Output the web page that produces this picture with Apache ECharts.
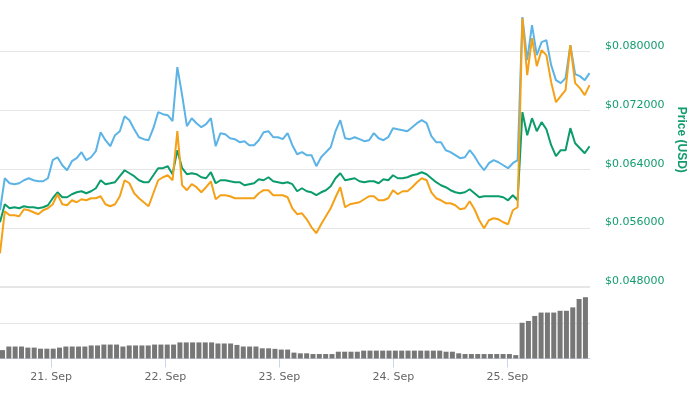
<!DOCTYPE html>
<html>
<head>
<meta charset="utf-8">
<script src="https://cdn.jsdelivr.net/npm/echarts@6/dist/echarts.min.js"></script>
<style>
html,body{margin:0;padding:0;background:#ffffff;}
#chart{width:694px;height:394px;}
</style>
</head>
<body>
<div id="chart"></div>
<script>
// ---- data ----
const startTime = new Date(2018, 8, 20, 13, 45).getTime();   // first price sample
const axisStart = new Date(2018, 8, 20, 13, 45).getTime();
const axisEnd = new Date(2018, 8, 25, 16, 51).getTime();
const priceStepMinutes = 60;
const volumeStepMinutes = 80;
const dayMs = 86400000;
const priceTicks = [0.048, 0.056, 0.064, 0.072, 0.080];

const seriesBlue = [
0.05841,0.06277,0.06209,0.06196,0.06209,0.06250,0.06277,0.06250,0.06236,0.06236,
0.06277,0.06523,0.06563,0.06454,0.06386,0.06509,0.06550,0.06632,0.06523,0.06563,
0.06645,0.06904,0.06795,0.06713,0.06863,0.06918,0.07122,0.07068,0.06945,0.06836,
0.06809,0.06795,0.06959,0.07177,0.07150,0.07136,0.07054,0.07790,0.07409,0.06986,
0.07095,0.07027,0.06972,0.07013,0.07095,0.06713,0.06891,0.06877,0.06822,0.06809,
0.06768,0.06782,0.06727,0.06727,0.06795,0.06904,0.06918,0.06836,0.06836,0.06809,
0.06891,0.06727,0.06604,0.06632,0.06591,0.06591,0.06441,0.06563,0.06632,0.06700,
0.06918,0.07068,0.06822,0.06809,0.06836,0.06809,0.06782,0.06795,0.06891,0.06822,
0.06795,0.06836,0.06959,0.06945,0.06932,0.06918,0.06972,0.07027,0.07068,0.07027,
0.06850,0.06768,0.06768,0.06659,0.06632,0.06591,0.06550,0.06563,0.06659,0.06577,
0.06468,0.06386,0.06482,0.06523,0.06495,0.06454,0.06414,0.06482,0.06523,0.08472,
0.07886,0.08363,0.07954,0.08131,0.08158,0.07817,0.07613,0.07572,0.07640,0.08090,
0.07695,0.07668,0.07613,0.07709
];
const seriesGreen = [
0.05678,0.05923,0.05868,0.05882,0.05868,0.05896,0.05882,0.05882,0.05868,0.05882,
0.05909,0.06005,0.06086,0.06018,0.06018,0.06059,0.06086,0.06100,0.06073,0.06100,
0.06141,0.06250,0.06196,0.06209,0.06223,0.06305,0.06386,0.06345,0.06305,0.06250,
0.06223,0.06223,0.06318,0.06414,0.06414,0.06441,0.06332,0.06659,0.06414,0.06332,
0.06345,0.06332,0.06291,0.06277,0.06359,0.06209,0.06250,0.06250,0.06236,0.06223,
0.06223,0.06182,0.06196,0.06209,0.06264,0.06250,0.06291,0.06236,0.06223,0.06209,
0.06223,0.06196,0.06100,0.06141,0.06100,0.06086,0.06046,0.06086,0.06114,0.06168,
0.06277,0.06345,0.06250,0.06264,0.06277,0.06236,0.06223,0.06236,0.06236,0.06209,
0.06264,0.06250,0.06318,0.06277,0.06277,0.06291,0.06318,0.06332,0.06359,0.06332,
0.06277,0.06223,0.06182,0.06155,0.06114,0.06086,0.06073,0.06086,0.06127,0.06073,
0.06018,0.06032,0.06032,0.06032,0.06032,0.06018,0.05977,0.06046,0.05977,0.07177,
0.06863,0.07095,0.06918,0.07041,0.06945,0.06727,0.06577,0.06659,0.06659,0.06959,
0.06754,0.06686,0.06618,0.06713
];
const seriesOrange = [
0.05255,0.05827,0.05773,0.05773,0.05759,0.05855,0.05841,0.05814,0.05787,0.05841,
0.05868,0.05923,0.06059,0.05923,0.05909,0.05977,0.05950,0.05991,0.05977,0.06005,
0.06005,0.06032,0.05923,0.05896,0.05923,0.06032,0.06250,0.06209,0.06073,0.06005,
0.05950,0.05896,0.06073,0.06250,0.06291,0.06318,0.06250,0.06918,0.06182,0.06114,
0.06196,0.06155,0.06086,0.06155,0.06236,0.05991,0.06046,0.06046,0.06032,0.06005,
0.06005,0.06005,0.06005,0.06005,0.06073,0.06114,0.06114,0.06046,0.06046,0.06046,
0.06018,0.05868,0.05787,0.05800,0.05718,0.05609,0.05528,0.05650,0.05759,0.05868,
0.06018,0.06155,0.05882,0.05923,0.05937,0.05950,0.05991,0.06032,0.06032,0.05977,
0.05977,0.06005,0.06114,0.06059,0.06100,0.06100,0.06155,0.06223,0.06277,0.06250,
0.06086,0.06005,0.05977,0.05937,0.05937,0.05909,0.05855,0.05868,0.05964,0.05855,
0.05705,0.05596,0.05705,0.05732,0.05718,0.05678,0.05650,0.05841,0.05882,0.08458,
0.07681,0.08186,0.07804,0.08022,0.07954,0.07586,0.07313,0.07395,0.07477,0.08090,
0.07572,0.07504,0.07409,0.07545
];
const volumeValues = [
4.7,6.7,6.7,6.7,6.1,6.1,5.5,5.5,5.5,6.1,
6.7,6.7,6.7,6.7,7.3,7.3,7.8,7.8,7.8,6.7,
7.3,7.3,7.3,7.3,7.8,7.8,7.8,7.8,9.0,9.0,
9.0,9.0,9.0,9.0,8.4,8.4,8.4,7.6,6.7,6.7,
6.7,5.7,5.7,5.4,5.0,5.0,3.3,2.9,2.9,2.5,
2.5,2.5,2.5,3.8,3.8,3.8,3.8,4.4,4.4,4.4,
4.4,4.4,4.4,4.4,4.4,4.4,4.4,4.4,4.4,4.4,
3.8,3.8,2.9,2.5,2.5,2.5,2.5,2.5,2.5,2.5,
2.5,1.9,20.0,21.0,23.8,25.7,25.7,25.7,26.7,26.7,
28.6,33.3,34.3
];

// ---- build ----
const toPairs = (vals, stepMin) => vals.map((v, i) => [startTime + i * stepMin * 60000, v]);
const green = '#139c6e';
const font = 'DejaVu Sans';

const chart = echarts.init(document.getElementById('chart'), null, {renderer: 'canvas'});
chart.setOption({
  animation: false,
  backgroundColor: '#ffffff',
  grid: [
    {left: 0, right: 104, top: -7, height: 293.7, outerBoundsMode: 'none', containLabel: false},
    {left: 0, right: 104, top: 287, height: 71.5, outerBoundsMode: 'none', containLabel: false}
  ],
  xAxis: [
    {type: 'time', gridIndex: 0, min: axisStart, max: axisEnd, show: false},
    {type: 'time', gridIndex: 1, min: axisStart, max: axisEnd,
      minInterval: dayMs, maxInterval: dayMs,
      axisLine: {show: true, lineStyle: {color: '#ccd6eb', width: 1}},
      axisTick: {show: true, length: 9, lineStyle: {color: '#ccd6eb'}},
      splitLine: {show: false},
      axisLabel: {
        showMinLabel: false, showMaxLabel: false,
        margin: 13, color: '#666666', fontFamily: font, fontSize: 11,
        formatter: v => new Date(v).getDate() + '. Sep'
      }
    }
  ],
  yAxis: [
    {type: 'value', gridIndex: 0, position: 'right', min: 0.048, max: 0.088, interval: 0.008,
      axisLine: {show: false}, axisTick: {show: false},
      splitLine: {show: true, lineStyle: {color: '#e6e6e6', width: 1}},
      axisLabel: {show: true, showMaxLabel: false, margin: 15, color: green, fontFamily: font, fontSize: 11,
        verticalAlign: 'bottom', formatter: v => '$' + v.toFixed(6)},
      name: 'Price (USD)', nameLocation: 'middle', nameRotate: -90, nameGap: 77,
      nameTextStyle: {color: green, fontFamily: 'Liberation Sans', fontWeight: 'bold', fontSize: 12}
    },
    {type: 'value', gridIndex: 1, position: 'right', min: 0, max: 40, interval: 20,
      axisLine: {show: false}, axisTick: {show: false}, axisLabel: {show: false},
      splitLine: {show: true, lineStyle: {color: '#e6e6e6', width: 1}}
    }
  ],
  series: [
    {type: 'bar', name: 'Volume', xAxisIndex: 1, yAxisIndex: 1, data: toPairs(volumeValues, volumeStepMinutes),
      barWidth: 5, itemStyle: {color: '#777777'}, silent: true},
    {type: 'line', name: 'Blue', xAxisIndex: 0, yAxisIndex: 0, data: toPairs(seriesBlue, priceStepMinutes),
      showSymbol: false, lineStyle: {color: '#5cb3e6', width: 2}, itemStyle: {color: '#5cb3e6'}},
    {type: 'line', name: 'Green', xAxisIndex: 0, yAxisIndex: 0, data: toPairs(seriesGreen, priceStepMinutes),
      showSymbol: false, lineStyle: {color: '#0c9c6c', width: 2}, itemStyle: {color: '#0c9c6c'}},
    {type: 'line', name: 'Orange', xAxisIndex: 0, yAxisIndex: 0, data: toPairs(seriesOrange, priceStepMinutes),
      showSymbol: false, lineStyle: {color: '#f4a118', width: 2}, itemStyle: {color: '#f4a118'}}
  ]
});
</script>
</body>
</html>
